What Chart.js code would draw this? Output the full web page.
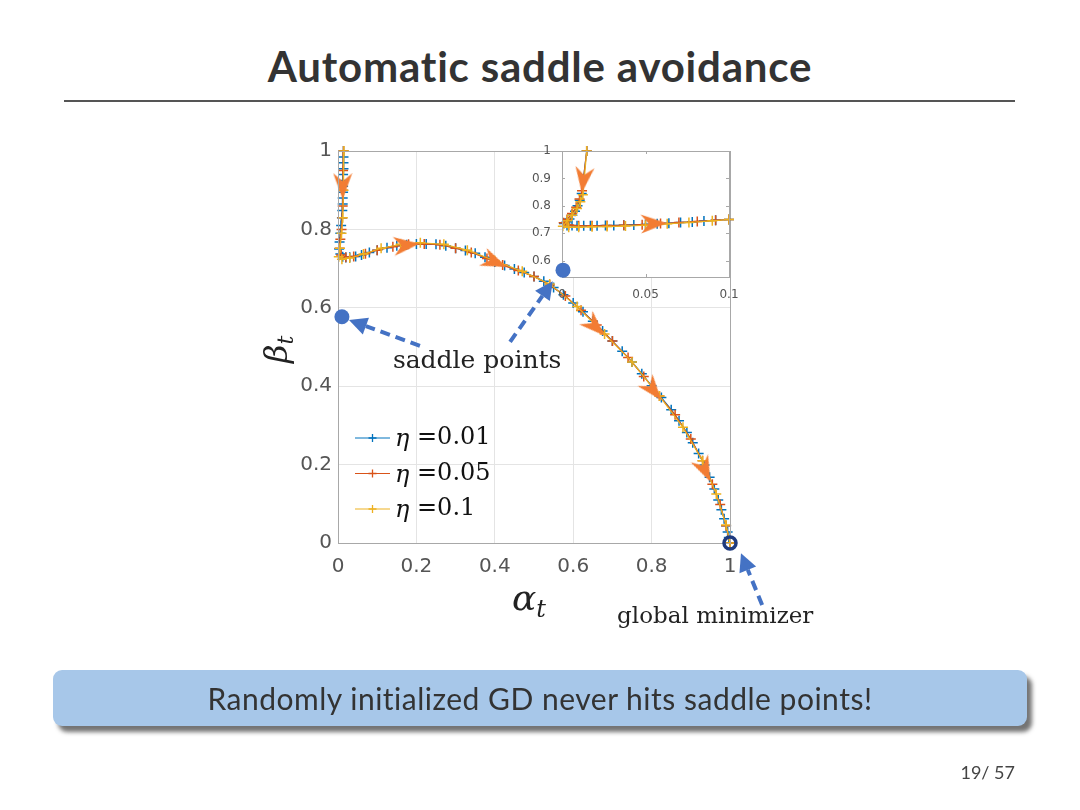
<!DOCTYPE html>
<html>
<head>
<meta charset="utf-8">
<script src="https://cdn.jsdelivr.net/npm/chart.js@4.4.1/dist/chart.umd.min.js"></script>
<style>
  html, body { margin: 0; padding: 0; background: #fff; }
  #slide { position: relative; width: 1080px; height: 810px; overflow: hidden; font-family: Lato, "Open Sans", sans-serif; font-variant-ligatures: none; }
  #title { position: absolute; left: 0; top: 41px; width: 1080px; text-align: center; font-weight: bold; font-size: 42px; letter-spacing: 0.8px; color: #333; }
  #rule { position: absolute; left: 64px; top: 100px; width: 951px; height: 2px; background: #555; }
  canvas { position: absolute; left: 0; top: 0; }
  #box { position: absolute; left: 53px; top: 670px; width: 974px; height: 56px; border-radius: 9px; background: #a7c7e9;
         box-shadow: 5px 6px 4px rgba(70,70,70,0.75); text-align: center; line-height: 56px; font-size: 30px; letter-spacing: 0.5px; color: #333; }
  #page { position: absolute; right: 65px; top: 761px; font-size: 18px; color: #444; }
</style>
</head>
<body>
<div id="slide">
  <div id="title">Automatic saddle avoidance</div>
  <div id="rule"></div>
  <canvas id="mainChart" width="1080" height="810"></canvas>
  <canvas id="insetChart" width="1080" height="810"></canvas>
  <div id="box">Randomly initialized GD never hits saddle points!</div>
  <div id="page">19/ 57</div>
</div>
<script>
// data: main plot
const xTicks = [0, 0.2, 0.4, 0.6, 0.8, 1];
const yTicks = [0, 0.2, 0.4, 0.6, 0.8, 1];
const etaLabels = ['0.01', '0.05', '0.1'];

const alphaBlue = [0.014,0.014,0.014,0.014,0.013,0.013,0.013,0.013,0.012,0.012,0.011,0.010,0.008,0.006,0.004,0.003,0.006,0.012,0.020,0.030,0.045,0.060,0.080,0.100,0.125,0.150,0.175,0.200,0.225,0.250,0.275,0.300,0.325,0.350,0.375,0.400,0.425,0.450,0.475,0.500,0.525,0.550,0.575,0.600,0.625,0.650,0.675,0.700,0.725,0.750,0.775,0.800,0.825,0.850,0.870,0.890,0.905,0.920,0.935,0.948,0.960,0.970,0.978,0.985,0.990,0.994,0.997,1.000];
const betaBlue  = [1.000,0.985,0.970,0.955,0.940,0.925,0.910,0.895,0.880,0.865,0.848,0.830,0.810,0.790,0.768,0.750,0.737,0.730,0.728,0.729,0.731,0.735,0.741,0.747,0.753,0.758,0.761,0.763,0.763,0.762,0.758,0.752,0.746,0.739,0.729,0.717,0.708,0.699,0.690,0.680,0.668,0.652,0.633,0.612,0.590,0.566,0.541,0.515,0.489,0.462,0.432,0.401,0.371,0.340,0.312,0.282,0.256,0.228,0.199,0.168,0.138,0.110,0.085,0.062,0.044,0.028,0.014,0.000];

const alphaRed = [0.014,0.013,0.013,0.012,0.011,0.009,0.006,0.004,0.008,0.020,0.040,0.070,0.100,0.140,0.180,0.220,0.260,0.300,0.340,0.380,0.420,0.460,0.500,0.540,0.580,0.620,0.660,0.700,0.740,0.780,0.820,0.860,0.900,0.930,0.955,0.975,0.990,1.000];
const betaRed  = [1.000,0.950,0.900,0.860,0.830,0.800,0.775,0.752,0.735,0.729,0.731,0.738,0.747,0.756,0.762,0.763,0.761,0.752,0.741,0.726,0.709,0.695,0.680,0.658,0.630,0.594,0.556,0.515,0.473,0.425,0.375,0.327,0.265,0.210,0.150,0.098,0.044,0.000];

const alphaYellow = [0.015,0.014,0.012,0.009,0.005,0.002,0.010,0.030,0.065,0.110,0.160,0.210,0.270,0.330,0.400,0.470,0.540,0.610,0.680,0.750,0.820,0.880,0.930,0.965,0.990,1.000];
const betaYellow  = [1.000,0.900,0.830,0.790,0.752,0.730,0.724,0.727,0.737,0.752,0.762,0.766,0.762,0.747,0.720,0.693,0.661,0.603,0.533,0.462,0.375,0.295,0.210,0.125,0.046,0.000];

// direction arrows along the path (angle in degrees, clockwise from +x)
const arrowAlpha = [0.012, 0.175, 0.400, 0.656, 0.804, 0.936];
const arrowBeta  = [0.910, 0.760, 0.717, 0.552, 0.390, 0.186];
const arrowAngle = [90, -6, 23, 44, 51, 65];

// data: inset (zoom near the start)
const insetXTicks = [0, 0.05, 0.1];
const insetYTicks = [0.6, 0.7, 0.8, 0.9, 1];

const insetAlphaBlue = [0.0148,0.0118,0.0106,0.0093,0.0078,0.0062,0.0045,0.0028,0.0012,0.0030,0.0060,0.0090,0.0130,0.0170,0.0210,0.0260,0.0310,0.0370,0.0430,0.0500,0.0570,0.0640,0.0710,0.0780,0.0850,0.0920,0.1000];
const insetBetaBlue  = [1.000,0.845,0.820,0.800,0.780,0.765,0.752,0.742,0.735,0.728,0.728,0.727,0.727,0.727,0.727,0.728,0.728,0.729,0.730,0.732,0.734,0.736,0.739,0.741,0.744,0.747,0.750];

const insetAlphaRed = [0.0148,0.0120,0.0105,0.0085,0.0060,0.0030,0.0010,0.0040,0.0100,0.0180,0.0270,0.0370,0.0480,0.0590,0.0700,0.0810,0.0920,0.1000];
const insetBetaRed  = [1.000,0.855,0.825,0.795,0.772,0.750,0.738,0.730,0.727,0.727,0.728,0.729,0.731,0.735,0.739,0.743,0.747,0.750];

const insetAlphaYellow = [0.0148,0.0125,0.0110,0.0090,0.0060,0.0030,0.0005,0.0040,0.0100,0.0180,0.0270,0.0380,0.0500,0.0630,0.0760,0.0900,0.1000];
const insetBetaYellow  = [1.000,0.840,0.815,0.790,0.765,0.745,0.725,0.722,0.722,0.723,0.724,0.726,0.729,0.734,0.739,0.745,0.750];

const insetArrowAlpha = [0.0128, 0.055];
const insetArrowBeta  = [0.894, 0.735];
const insetArrowAngle = [97, -2];

// annotations (main-axes coordinates)
const saddleAlpha = [0.010, 0.574];
const saddleBeta  = [0.577, 0.696];
const minimizerAlpha = 1.0, minimizerBeta = 0.0;
const pointerFrom = [[0.209, 0.503], [0.439, 0.513], [1.082, -0.158]];
const pointerTo   = [[0.028, 0.569], [0.548, 0.668], [1.028, -0.026]];

const blue = '#0072BD', red = '#D95319', yellow = '#EDB120';
const annColor = '#4472C4';

function pts(xs, ys) {
  return xs.map((x, i) => ({ x: x, y: ys[i] }));
}

function series(label, xs, ys, color, order, r) {
  return {
    label: label, data: pts(xs, ys), showLine: true, order: order,
    borderColor: color, backgroundColor: color, borderWidth: 1.2,
    pointStyle: 'cross', pointRadius: r, pointBorderWidth: 1.5, pointBorderColor: color,
    clip: false
  };
}

function makeArrow(color) {
  const c = document.createElement('canvas');
  c.width = 26; c.height = 20;
  const g = c.getContext('2d');
  g.fillStyle = color;
  g.beginPath();
  g.moveTo(26, 10); g.lineTo(0, 0.5); g.lineTo(8, 10); g.lineTo(0, 19.5);
  g.closePath(); g.fill();
  return c;
}
const arrowImg = makeArrow('#F27C33');

const tickFont = { family: '"DejaVu Sans", sans-serif', size: 20 };

// box + axis labels + legend for main axes
const mainDeco = {
  id: 'mainDeco',
  afterDraw(chart) {
    const ctx = chart.ctx, a = chart.chartArea;
    ctx.save();
    ctx.strokeStyle = '#a8a8a8'; ctx.lineWidth = 1;
    ctx.strokeRect(a.left + 0.5, a.top + 0.5, a.right - a.left, a.bottom - a.top);

    // alpha_t
    ctx.fillStyle = '#222';
    ctx.textBaseline = 'alphabetic'; ctx.textAlign = 'left';
    ctx.font = 'italic 36px "DejaVu Serif"';
    const aw = ctx.measureText('α').width;
    const ax = (a.left + a.right) / 2 - 22;
    ctx.fillText('α', ax, a.bottom + 67);
    ctx.font = 'italic 24px "DejaVu Serif"';
    ctx.fillText('t', ax + aw, a.bottom + 74);

    // beta_t rotated
    ctx.save();
    ctx.translate(a.left - 51, (a.top + a.bottom) / 2 + 16);
    ctx.rotate(-Math.PI / 2);
    ctx.font = 'italic 32px "DejaVu Serif"';
    const bw = ctx.measureText('β').width;
    ctx.fillText('β', 0, 0);
    ctx.font = 'italic 22px "DejaVu Serif"';
    ctx.fillText('t', bw, 6);
    ctx.restore();

    // legend
    const colors = [blue, red, yellow];
    etaLabels.forEach((lab, i) => {
      const y = a.top + 287 + i * 35.5;
      const x0 = a.left + 17;
      ctx.strokeStyle = colors[i]; ctx.lineWidth = 1;
      ctx.beginPath(); ctx.moveTo(x0, y); ctx.lineTo(x0 + 35, y); ctx.stroke();
      ctx.lineWidth = 1.3;
      ctx.beginPath();
      ctx.moveTo(x0 + 17.5, y - 4); ctx.lineTo(x0 + 17.5, y + 4);
      ctx.moveTo(x0 + 13.5, y); ctx.lineTo(x0 + 21.5, y);
      ctx.stroke();
      ctx.fillStyle = '#111'; ctx.textBaseline = 'middle';
      ctx.font = 'italic 24px "DejaVu Serif"';
      ctx.fillText('η', x0 + 40, y + 2);
      const ew = ctx.measureText('η ').width;
      ctx.font = '24px "DejaVu Serif"';
      ctx.fillText('=' + lab, x0 + 40 + ew, y);
    });
    ctx.restore();
  }
};

const mainChart = new Chart(document.getElementById('mainChart'), {
  type: 'scatter',
  data: {
    datasets: [
      series('η =0.01', alphaBlue, betaBlue, blue, 3, 5),
      series('η =0.05', alphaRed, betaRed, red, 2, 5),
      series('η =0.1', alphaYellow, betaYellow, yellow, 1, 5),
      {
        label: 'arrows', data: pts(arrowAlpha, arrowBeta), order: 0,
        pointStyle: arrowImg, pointRotation: arrowAngle, clip: false
      }
    ]
  },
  options: {
    responsive: false,
    animation: false,
    events: [],
    layout: { padding: { left: 288, right: 350, top: 151, bottom: 227 } },
    plugins: { legend: { display: false }, tooltip: { enabled: false } },
    scales: {
      x: {
        type: 'linear', min: 0, max: 1,
        afterBuildTicks: s => { s.ticks = xTicks.map(v => ({ value: v })); },
        afterFit: s => { s.height = 40; },
        grid: { color: '#e4e4e4', drawTicks: false },
        border: { display: false },
        ticks: { font: tickFont, color: '#555', padding: 12, maxRotation: 0, callback: v => String(v) }
      },
      y: {
        type: 'linear', min: 0, max: 1,
        afterBuildTicks: s => { s.ticks = yTicks.map(v => ({ value: v })); },
        afterFit: s => { s.width = 50; },
        grid: { color: '#e4e4e4', drawTicks: false },
        border: { display: false },
        ticks: { font: tickFont, color: '#555', padding: 6, callback: v => String(v) }
      }
    }
  },
  plugins: [mainDeco]
});

function dashedArrow(ctx, x1, y1, x2, y2) {
  const ang = Math.atan2(y2 - y1, x2 - x1);
  const headLen = 18, headW = 9;
  const bx = x2 - headLen * Math.cos(ang), by = y2 - headLen * Math.sin(ang);
  ctx.save();
  ctx.strokeStyle = annColor; ctx.lineWidth = 4; ctx.setLineDash([10, 6]);
  ctx.beginPath(); ctx.moveTo(x1, y1); ctx.lineTo(bx, by); ctx.stroke();
  ctx.setLineDash([]);
  ctx.fillStyle = annColor;
  ctx.beginPath(); ctx.moveTo(x2, y2);
  ctx.lineTo(bx + headW * Math.sin(ang), by - headW * Math.cos(ang));
  ctx.lineTo(bx - headW * Math.sin(ang), by + headW * Math.cos(ang));
  ctx.closePath(); ctx.fill();
  ctx.restore();
}

// inset background, box, and slide annotations on top of everything
const insetDeco = {
  id: 'insetDeco',
  beforeDraw(chart) {
    const ctx = chart.ctx, a = chart.chartArea;
    ctx.save();
    ctx.fillStyle = '#fff';
    ctx.fillRect(a.left, a.top, a.right - a.left, a.bottom - a.top);
    ctx.restore();
  },
  afterDraw(chart) {
    const ctx = chart.ctx, a = chart.chartArea;
    ctx.save();
    ctx.strokeStyle = '#a8a8a8'; ctx.lineWidth = 1;
    ctx.strokeRect(a.left + 0.5, a.top + 0.5, a.right - a.left, a.bottom - a.top);
    ctx.beginPath();
    insetXTicks.forEach(v => {
      const x = Math.round(chart.scales.x.getPixelForValue(v)) + 0.5;
      ctx.moveTo(x, a.bottom); ctx.lineTo(x, a.bottom - 3);
      ctx.moveTo(x, a.top); ctx.lineTo(x, a.top + 3);
    });
    insetYTicks.forEach(v => {
      const y = Math.round(chart.scales.y.getPixelForValue(v)) + 0.5;
      ctx.moveTo(a.left, y); ctx.lineTo(a.left + 3, y);
      ctx.moveTo(a.right, y); ctx.lineTo(a.right - 3, y);
    });
    ctx.stroke();

    // annotations use the main axes
    const sx = mainChart.scales.x, sy = mainChart.scales.y;
    const px = v => sx.getPixelForValue(v), py = v => sy.getPixelForValue(v);
    pointerFrom.forEach((f, i) => {
      const t = pointerTo[i];
      dashedArrow(ctx, px(f[0]), py(f[1]), px(t[0]), py(t[1]));
    });
    ctx.fillStyle = annColor;
    saddleAlpha.forEach((v, i) => {
      ctx.beginPath(); ctx.arc(px(v), py(saddleBeta[i]), 7.5, 0, Math.PI * 2); ctx.fill();
    });
    ctx.strokeStyle = '#1f3b7f'; ctx.lineWidth = 3.5;
    ctx.beginPath(); ctx.arc(px(minimizerAlpha), py(minimizerBeta), 6, 0, Math.PI * 2); ctx.stroke();

    ctx.fillStyle = '#222'; ctx.textAlign = 'left'; ctx.textBaseline = 'alphabetic';
    ctx.font = '25px "DejaVu Serif"';
    ctx.fillText('saddle points', px(0.140), py(0.446));
    ctx.font = '23px "DejaVu Serif"';
    ctx.fillText('global minimizer', px(0.712), py(-0.204));
    ctx.restore();
  }
};

const insetFont = { family: '"DejaVu Sans", sans-serif', size: 12 };

new Chart(document.getElementById('insetChart'), {
  type: 'scatter',
  data: {
    datasets: [
      series('η =0.01', insetAlphaBlue, insetBetaBlue, blue, 3, 5),
      series('η =0.05', insetAlphaRed, insetBetaRed, red, 2, 5),
      series('η =0.1', insetAlphaYellow, insetBetaYellow, yellow, 1, 5),
      {
        label: 'arrows', data: pts(insetArrowAlpha, insetArrowBeta), order: 0,
        pointStyle: arrowImg, pointRotation: insetArrowAngle, clip: false
      }
    ]
  },
  options: {
    responsive: false,
    animation: false,
    events: [],
    layout: { padding: { left: 532, right: 351, top: 151, bottom: 503 } },
    plugins: { legend: { display: false }, tooltip: { enabled: false } },
    scales: {
      x: {
        type: 'linear', min: 0, max: 0.1,
        afterBuildTicks: s => { s.ticks = insetXTicks.map(v => ({ value: v })); },
        afterFit: s => { s.height = 30; },
        grid: { display: false },
        border: { display: false },
        ticks: { font: insetFont, color: '#555', padding: 3, maxRotation: 0, callback: v => String(v) }
      },
      y: {
        type: 'linear', min: 0.54, max: 1,
        afterBuildTicks: s => { s.ticks = insetYTicks.map(v => ({ value: v })); },
        afterFit: s => { s.width = 30; },
        grid: { display: false },
        border: { display: false },
        ticks: { font: insetFont, color: '#555', padding: 3, callback: v => String(v) }
      }
    }
  },
  plugins: [insetDeco]
});
</script>
</body>
</html>
